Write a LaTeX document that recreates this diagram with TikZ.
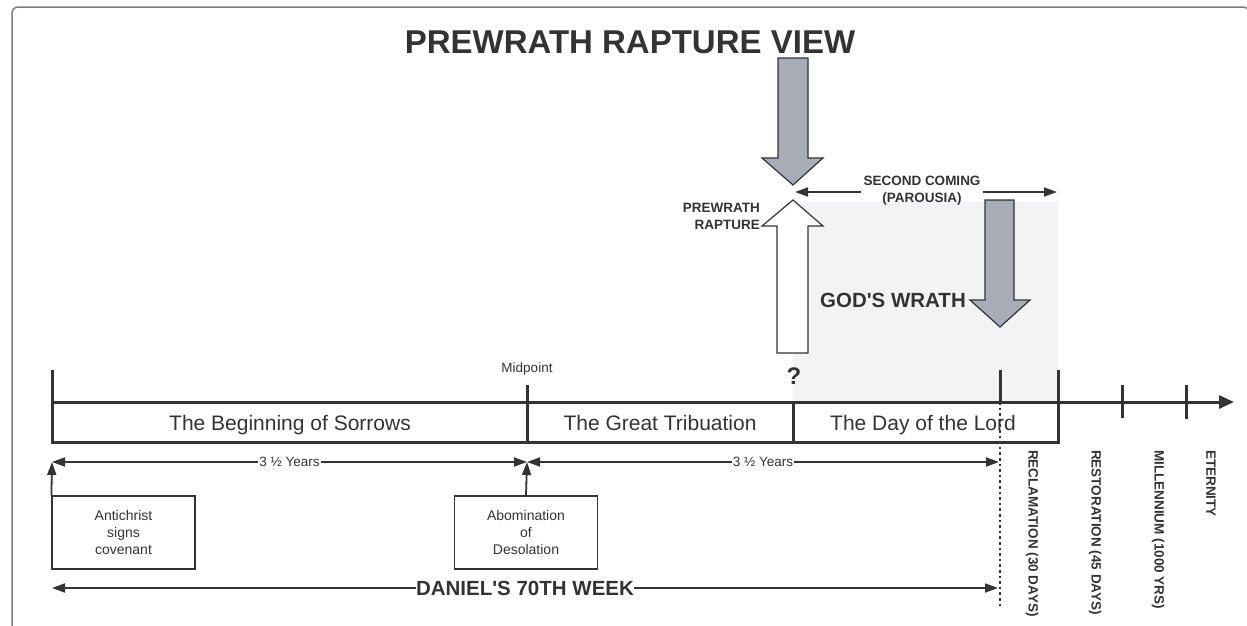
\documentclass[tikz,border=0pt]{standalone}
\usepackage{fontspec}
\setmainfont{Liberation Sans}
\usetikzlibrary{positioning, arrows.meta}

\definecolor{ink}{RGB}{51,51,51}
\definecolor{wrathgray}{RGB}{167,172,182}
\definecolor{wrathshade}{RGB}{243,243,245}
\definecolor{framegray}{RGB}{125,125,125}

\begin{document}
\begin{tikzpicture}[x=1pt, y=-1pt,
    every node/.style={text=ink},
    tl/.style={draw=ink, line width=3pt},
    span/.style={draw=ink, line width=1.8pt, -{Triangle[length=13pt,width=9pt]}},
    spanboth/.style={span, {Triangle[length=13pt,width=9pt]}-{Triangle[length=13pt,width=9pt]}},
    block/.style={draw=ink, line width=1.2pt, line join=miter},
    event/.style={draw=ink, line width=1.2pt, minimum width=143pt, minimum height=73pt,
        align=center, font=\fontsize{14}{17}\selectfont},
    period/.style={font=\fontsize{21}{25}\selectfont, anchor=base},
    note/.style={font=\fontsize{13.5}{16}\selectfont, inner sep=1pt},
    caps/.style={font=\fontsize{13.5}{17}\selectfont\bfseries},
    stage/.style={caps, rotate=-90, anchor=west, inner sep=0pt}]
    \useasboundingbox (0,0) rectangle (1247,625);

    % Frame
    \draw[framegray, line width=1.5pt, rounded corners=6pt] (12,630) -- (12,7) -- (1249,7) -- (1249,630);

    % Wrath region
    \fill[wrathshade] (793,202) rectangle (1058,402);

    % Title
    \node[font=\fontsize{33}{38}\selectfont\bfseries] (title) at (630,42) {PREWRATH RAPTURE VIEW};

    % Timeline
    \coordinate (t0) at (52,402);
    \coordinate (tmid) at (527,402);
    \coordinate (tdol) at (793,402);
    \coordinate (trec) at (1000,402);
    \coordinate (tres) at (1058,402);
    \coordinate (tmil) at (1122,402);
    \coordinate (tete) at (1186,402);
    \coordinate (tend) at (1234,402);
    \draw[tl, -{Triangle[length=15pt,width=13pt]}] (t0) -- (tend);
    \draw[tl] (52,442) -- (1058,442);
    \draw[tl] (52,370) -- (52,443.5);
    \draw[tl] (527,385) -- (527,443.5);
    \draw[tl] (tdol) -- (793,443.5);
    \draw[tl] (1058,370) -- (1058,443.5);
    \draw[tl] (1000,370) -- (trec);
    \draw[tl] (1122,385) -- (1122,418);
    \draw[tl] (1186,385) -- (1186,419);
    \draw[draw=ink, line width=2.6pt, dash pattern=on 2.6pt off 3pt] (trec) -- (1000,607);

    \node[note] (midpoint) at (527,369) {Midpoint};
    \node[period] (sorrows) at (290,430) {The Beginning of Sorrows};
    \node[period] (tribulation) at (660,430) {The Great Tribuation};
    \node[period] (dayoflord) at (923,430) {The Day of the Lord};

    % Spans below the timeline
    \coordinate (s0) at (52,462);
    \coordinate (smid) at (527,462);
    \coordinate (send) at (999,462);
    \draw[spanboth] (s0) -- node[note, fill=white] (yrs1) {3 ½ Years} (smid);
    \draw[spanboth] (smid) -- node[note, fill=white] (yrs2) {3 ½ Years} (send);

    % Events
    \node[event] (covenant) at (123.5,532.5) {Antichrist\\signs\\covenant};
    \node[event] (abomination) at (526,532.5) {Abomination\\of\\Desolation};
    \draw[span] (covenant.north west) -- (s0);
    \draw[span] (abomination.north) -- (smid);

    % Daniel's week
    \coordinate (w0) at (52,588);
    \coordinate (wend) at (998,588);
    \node[font=\fontsize{20.5}{24}\selectfont\bfseries, inner sep=0pt] (week) at (525,588) {DANIEL\textquotesingle S 70TH WEEK};
    \draw[span] (week.west) -- (w0);
    \draw[span] (week.east) -- (wend);

    % Stages after the week
    \node[stage] (reclamation) at (1032,450) {RECLAMATION (30 DAYS)};
    \node[stage] (restoration) at (1095,450) {RESTORATION (45 DAYS)};
    \node[stage] (millennium) at (1158,450) {MILLENNIUM (1000 YRS)};
    \node[stage] (eternity) at (1211,450) {ETERNITY};

    % Block arrows
    \draw[block, fill=wrathgray] (778,58) -- (808,58) -- (808,158) -- (823,158) -- (793,185)
        -- (762,158) -- (778,158) -- cycle;
    \draw[block, fill=white] (777,353) -- (808,353) -- (808,226) -- (823,226) -- (793,200)
        -- (762,226) -- (777,226) -- cycle;
    \draw[block, fill=wrathgray] (985,200) -- (1014,200) -- (1014,300) -- (1030,300) -- (1000,327)
        -- (970,300) -- (985,300) -- cycle;

    % Labels around the arrows
    \node[caps, align=right, anchor=east, inner sep=0pt] (rapture) at (760,216) {PREWRATH\\RAPTURE};
    \node[caps, align=center, inner sep=2pt] (coming) at (922,191) {SECOND COMING\\(PAROUSIA)};
    \coordinate (comingl) at (795,192);
    \coordinate (comingr) at (1057,192);
    \draw[span] (coming.west |- comingl) -- (comingl);
    \draw[span] (coming.east |- comingr) -- (comingr);
    \node[font=\fontsize{20.5}{24}\selectfont\bfseries, anchor=east, inner sep=0pt] (wrath) at (966,300) {GOD\textquotesingle S WRATH};
    \node[font=\fontsize{24}{28}\selectfont\bfseries, inner sep=0pt] (question) at (794,376) {?};
\end{tikzpicture}
\end{document}
